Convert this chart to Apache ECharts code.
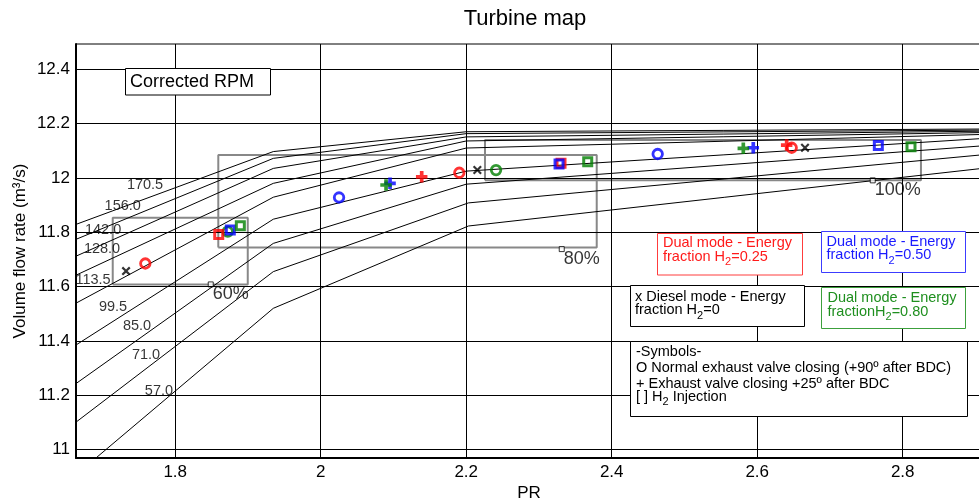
<!DOCTYPE html>
<html>
<head>
<meta charset="utf-8">
<title>Turbine map</title>
<script src="https://cdn.jsdelivr.net/npm/echarts@6/dist/echarts.min.js"></script>
<style>
  html, body { margin: 0; padding: 0; background: #fff; }
  #chart { width: 979px; height: 502px; }
</style>
</head>
<body>
<div id="chart"></div>
<script>
const FONT = '"Liberation Sans", Arial, Helvetica, sans-serif';

// Axis extents and ticks
const xRange = [1.6636, 2.909];
const yRange = [10.969, 12.493];
const xTicks = [1.8, 2.0, 2.2, 2.4, 2.6, 2.8];
const xTickLabels = ['1.8', '2', '2.2', '2.4', '2.6', '2.8'];
const yTicks = [11.0, 11.2, 11.4, 11.6, 11.8, 12.0, 12.2, 12.4];
const yTickLabels = ['11', '11.2', '11.4', '11.6', '11.8', '12', '12.2', '12.4'];

// Corrected speed lines: [PR, volume flow rate]
const rpm1705 = [[1.6636, 11.829], [1.9348, 12.097], [2.200, 12.170], [2.909, 12.180]];
const rpm1560 = [[1.6636, 11.774], [1.9348, 12.072], [2.200, 12.163], [2.909, 12.176]];
const rpm1420 = [[1.6636, 11.712], [1.9348, 12.035], [2.200, 12.151], [2.909, 12.172]];
const rpm1280 = [[1.6636, 11.642], [1.9348, 11.980], [2.200, 12.136], [2.909, 12.167]];
const rpm1135 = [[1.6636, 11.539], [1.9348, 11.929], [2.200, 12.110], [2.909, 12.160]];
const rpm995  = [[1.6636, 11.385], [1.9348, 11.848], [2.200, 12.025], [2.909, 12.145]];
const rpm850  = [[1.6636, 11.243], [1.9348, 11.759], [2.200, 11.977], [2.909, 12.118]];
const rpm710  = [[1.6636, 11.101], [1.9348, 11.655], [2.203, 11.908], [2.909, 12.085]];
const rpm570  = [[1.6910, 10.969], [1.9348, 11.520], [2.203, 11.823], [2.909, 12.035]];

const speedLines = [rpm1705, rpm1560, rpm1420, rpm1280, rpm1135, rpm995, rpm850, rpm710, rpm570];
const speedNames = ['170.5', '156.0', '142.0', '128.0', '113.5', '99.5', '85.0', '71.0', '57.0'];
// PR at which each speed value is written along its line
const speedLabelPR = [1.7585, 1.7278, 1.7008, 1.6994, 1.6870, 1.7145, 1.7475, 1.7599, 1.7776];

// Engine load regions (closed outlines)
const region60  = [[1.7141, 11.608], [1.8997, 11.608], [1.8997, 11.853], [1.7141, 11.853], [1.7141, 11.608]];
const region80  = [[1.8592, 11.744], [2.3794, 11.744], [2.3794, 12.084], [1.8592, 12.084], [1.8592, 11.744]];
const region100 = [[2.2258, 11.991], [2.8251, 11.991], [2.8251, 12.140], [2.2258, 12.140], [2.2258, 11.991]];
const loadTags = ['60%', '80%', '100%'];
const loadTagPoints = [[1.8488, 11.608], [2.3313, 11.738], [2.7588, 11.991]];

// Operating points
const dieselX      = [[1.7324, 11.657], [2.2153, 12.029], [2.6657, 12.111]];
const redCircles   = [[1.7589, 11.685], [2.1905, 12.019], [2.6474, 12.111]];
const blueCircles  = [[2.0252, 11.928], [2.4632, 12.088]];
const greenCircles = [[1.8722, 11.802], [2.2410, 12.029]];
const redPlus      = [[2.1388, 12.004], [2.6405, 12.121]];
const bluePlus     = [[2.0953, 11.980], [2.5946, 12.111]];
const greenPlus    = [[2.0898, 11.974], [2.5809, 12.109]];
const redSquares   = [[1.8598, 11.792], [2.3303, 12.054]];
const blueSquares  = [[1.8757, 11.808], [2.3276, 12.051], [2.7665, 12.119]];
const greenSquares = [[1.8895, 11.824], [2.3670, 12.060], [2.8114, 12.115]];

const RED = '#ff0000', BLUE = '#0000ff', GREEN = '#008000';
const PLUS_PATH = 'path://M3.4,0H6.6V3.4H10V6.6H6.6V10H3.4V6.6H0V3.4H3.4Z';
const CROSS_PATH = 'path://M0,1.7L1.7,0L5,3.3L8.3,0L10,1.7L6.7,5L10,8.3L8.3,10L5,6.7L1.7,10L0,8.3L3.3,5Z';

function interpAt(line, x) {
  for (let i = 0; i < line.length - 1; i++) {
    const a = line[i], b = line[i + 1];
    if (x >= a[0] && x <= b[0]) {
      return a[1] + (b[1] - a[1]) * (x - a[0]) / (b[0] - a[0]);
    }
  }
  return line[0][1];
}

const measureCtx = document.createElement('canvas').getContext('2d');
function textWidth(str, size) {
  measureCtx.font = size + 'px ' + FONT;
  return measureCtx.measureText(str).width;
}

const chart = echarts.init(document.getElementById('chart'), null, { renderer: 'canvas' });

const series = [];

// grid lines at tick values
series.push({
  type: 'line', data: [], symbol: 'none', silent: true, z: 1,
  markLine: {
    silent: true, symbol: ['none', 'none'], animation: false,
    label: { show: false },
    lineStyle: { color: '#000', width: 1, type: 'solid' },
    emphasis: { disabled: true },
    data: xTicks.map(v => ({ xAxis: v })).concat(yTicks.map(v => ({ yAxis: v })))
  }
});

[region60, region80, region100].forEach(r => {
  series.push({
    type: 'line', data: r, symbol: 'none', silent: true, z: 2,
    lineStyle: { color: '#888', width: 2 }
  });
});

speedLines.forEach(line => {
  series.push({
    type: 'line', data: line, symbol: 'none', silent: true, z: 3,
    lineStyle: { color: '#000', width: 1 }
  });
});

// speed values written above their lines
series.push({
  type: 'scatter', symbolSize: 0, silent: true, z: 4,
  data: speedNames.map((n, i) => ({ name: n, value: [speedLabelPR[i], interpAt(speedLines[i], speedLabelPR[i])] })),
  label: {
    show: true, position: 'inside', offset: [0, -14], formatter: p => p.name,
    fontFamily: FONT, fontSize: 14.5, color: '#000'
  }
});

// load tags
series.push({
  type: 'scatter', symbol: 'rect', symbolSize: 5, silent: true, z: 4,
  itemStyle: { color: '#fff', borderColor: '#000', borderWidth: 1 },
  data: loadTags.map((t, i) => ({ name: t, value: loadTagPoints[i] })),
  label: {
    show: true, position: [5, 4], align: 'left', verticalAlign: 'top',
    formatter: p => p.name, fontFamily: FONT, fontSize: 18, color: '#000'
  }
});

function hollow(data, symbol, size, color, bw) {
  return {
    type: 'scatter', data, symbol, symbolSize: size, silent: true, z: 5,
    itemStyle: { color: 'rgba(255,255,255,0)', borderColor: color, borderWidth: bw }
  };
}
function solid(data, symbol, size, color) {
  return {
    type: 'scatter', data, symbol, symbolSize: size, silent: true, z: 5,
    itemStyle: { color: color, borderWidth: 0 }
  };
}

series.push(hollow(redCircles, 'circle', 9.5, RED, 2.8));
series.push(hollow(greenCircles, 'circle', 9.5, GREEN, 2.8));
series.push(hollow(blueCircles, 'circle', 9.5, BLUE, 2.8));
series.push(solid(redPlus, PLUS_PATH, 11.5, RED));
series.push(solid(bluePlus, PLUS_PATH, 11.5, BLUE));
series.push(solid(greenPlus, PLUS_PATH, 11.5, GREEN));
series.push(hollow(redSquares, 'rect', 8, RED, 3));
series.push(hollow(blueSquares, 'rect', 8, BLUE, 3));
series.push(hollow(greenSquares, 'rect', 8, GREEN, 3));
series.push(solid(dieselX, CROSS_PATH, 9, '#000'));

// text helpers for the annotation boxes
const BOX_FONT = 14.5, SUB_FONT = 11;
function textEl(text, x, y, size, color, align) {
  return {
    type: 'text', x: x, y: y, z: 11,
    style: {
      text: text, fill: color || '#000', fontFamily: FONT, fontSize: size,
      align: align || 'left', verticalAlign: 'middle',
      textAlign: align || 'left', textVerticalAlign: 'middle'
    }
  };
}
// one text line with a subscripted "2" after `pre`
function subLine(pre, post, x, y, color) {
  const wPre = textWidth(pre, BOX_FONT);
  const wSub = textWidth('2', SUB_FONT);
  return [
    textEl(pre, x, y, BOX_FONT, color),
    textEl('2', x + wPre, y + 5.5, SUB_FONT, color),
    textEl(post, x + wPre + wSub, y, BOX_FONT, color)
  ];
}
function frame(x, y, w, h, stroke) {
  return { type: 'rect', shape: { x: x, y: y, width: w, height: h },
    style: { fill: '#fff', stroke: stroke, lineWidth: 1 }, z: 10 };
}
function modeBox(x, y, w, h, color, stroke, first, pre, post, tx, ty) {
  return [frame(x, y, w, h, stroke), textEl(first, tx, ty, BOX_FONT, color)]
    .concat(subLine(pre, post, tx, ty + 13.4, color));
}

const graphics = [].concat(
  [textEl('Turbine map', 525, 19, 22, '#000', 'center')],
  [frame(125.5, 68.5, 145, 26.5, '#000'), textEl('Corrected RPM', 130, 82, 18, '#000')],
  modeBox(657.5, 233.5, 145, 41.5, '#ff1a1a', '#ff3c3c', 'Dual mode - Energy', 'fraction H', '=0.25', 663, 243.3),
  modeBox(821.5, 231.5, 144, 41, '#1a1aff', '#3c3cff', 'Dual mode - Energy', 'fraction H', '=0.50', 826.5, 242),
  modeBox(630.5, 285.5, 174, 41, '#000', '#000', 'x Diesel mode - Energy', 'fraction H', '=0', 635, 296.7),
  modeBox(821.5, 287.5, 144, 41, '#1f8f1f', '#3ca03c', 'Dual mode - Energy', 'fractionH', '=0.80', 827.5, 298.3),
  [frame(630.5, 341.5, 337, 75, '#000'),
   textEl('-Symbols-', 636, 352, BOX_FONT),
   textEl('O Normal exhaust valve closing (+90º after BDC)', 636, 368, BOX_FONT),
   textEl('+ Exhaust valve closing +25º after BDC', 636, 384, BOX_FONT)],
  subLine('[ ] H', ' Injection', 636, 396.5, '#000')
);

const axisCommon = {
  type: 'value',
  axisLine: { show: true, onZero: false, lineStyle: { color: '#000', width: 2 } },
  axisTick: { show: false },
  splitLine: { show: false },
  nameLocation: 'middle',
  nameMoveOverlap: false,
  nameTextStyle: { fontFamily: FONT, fontSize: 17, color: '#000' }
};

chart.setOption({
  animation: false,
  backgroundColor: '#fff',
  grid: {
    left: 76, right: -3, top: 44, bottom: 44, outerBoundsMode: 'none',
    show: true, borderColor: '#000', borderWidth: 1, backgroundColor: 'rgba(0,0,0,0)'
  },
  xAxis: Object.assign({}, axisCommon, {
    min: xRange[0], max: xRange[1],
    name: 'PR', nameGap: 27,
    axisLabel: {
      customValues: xTicks, margin: 6, fontFamily: FONT, fontSize: 17, color: '#000',
      formatter: v => xTickLabels[xTicks.findIndex(t => Math.abs(t - v) < 1e-6)]
    }
  }),
  yAxis: Object.assign({}, axisCommon, {
    min: yRange[0], max: yRange[1],
    name: 'Volume flow rate (m³/s)', nameGap: 47,
    axisLabel: {
      customValues: yTicks, margin: 6, fontFamily: FONT, fontSize: 17, color: '#000',
      formatter: v => yTickLabels[yTicks.findIndex(t => Math.abs(t - v) < 1e-6)]
    }
  }),
  series: series,
  graphic: graphics
});
</script>
</body>
</html>
